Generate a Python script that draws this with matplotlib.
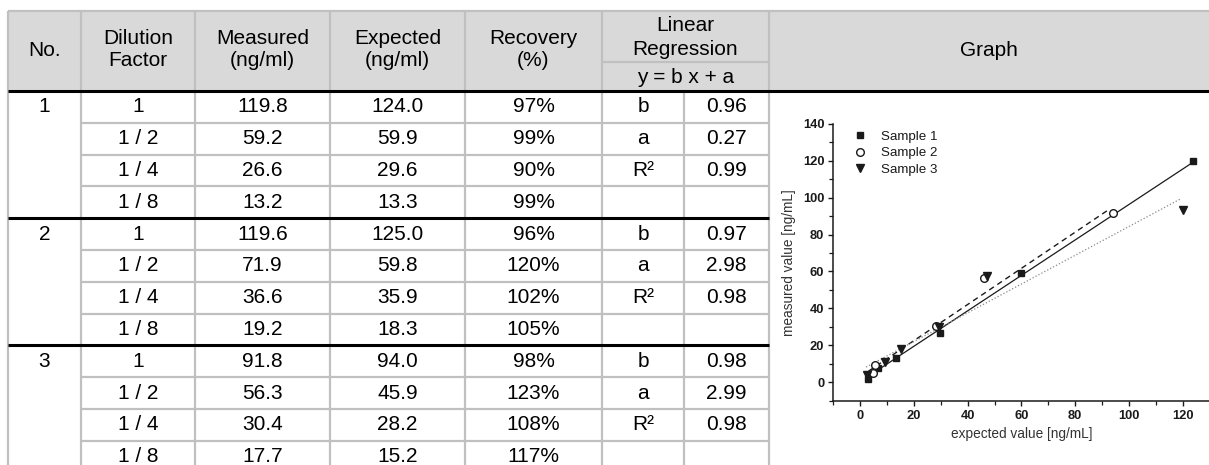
import matplotlib.pyplot as plt
from matplotlib.patches import Rectangle

plt.rcParams['font.family'] = ['Liberation Sans', 'DejaVu Sans']

# table data
dilution = ['1', '1 / 2', '1 / 4', '1 / 8'] * 3
measured = [119.8, 59.2, 26.6, 13.2, 119.6, 71.9, 36.6, 19.2, 91.8, 56.3, 30.4, 17.7]
expected = [124.0, 59.9, 29.6, 13.3, 125.0, 59.8, 35.9, 18.3, 94.0, 45.9, 28.2, 15.2]
recovery = [97, 99, 90, 99, 96, 120, 102, 105, 98, 123, 108, 117]
sample_no = ['1', '2', '3']
reg_b = [0.96, 0.97, 0.98]
reg_a = [0.27, 2.98, 2.99]
reg_r2 = [0.99, 0.98, 0.98]

# graph data
s1_x = [124.0, 59.9, 29.6, 13.3, 6.7, 2.8]
s1_y = [119.8, 59.2, 26.6, 13.2, 7.8, 1.5]
s2_x = [94.0, 45.9, 28.2, 5.7, 4.7]
s2_y = [91.8, 56.3, 30.4, 9.1, 4.9]
s3_x = [120.2, 47.3, 29.3, 15.3, 9.4, 2.5]
s3_y = [93.2, 57.4, 29.9, 17.8, 11.2, 3.8]
fit1_x, fit1_y = [2.5, 124.0], [2.7, 119.3]
fit2_x, fit2_y = [3.0, 93.0], [5.9, 94.0]
fit3_x, fit3_y = [2.2, 119.6], [8.2, 99.6]

W, H = 1209, 465
fig = plt.figure(figsize=(W / 100, H / 100), dpi=100)

# ---- table drawn in pixel coordinates
tab = fig.add_axes([0, 0, 1, 1])
tab.set_xlim(0, W)
tab.set_ylim(H, 0)
tab.axis('off')

cols = [8, 81, 195, 330, 465, 602, 684, 769, W]
top, sub, head_bot = 11, 62, 91
row_h = 31.8
grey = '#c0c0c0'
fs = 15

tab.add_patch(Rectangle((cols[0], top), W - cols[0], head_bot - top,
                        facecolor='#d9d9d9', edgecolor='none', zorder=0))
tab.hlines(top, cols[0], W, color=grey, lw=1.6)
tab.hlines(sub, cols[5], cols[7], color=grey, lw=1.6)
for x in cols[:-1]:
    if x != cols[6]:
        tab.vlines(x, top, head_bot, color=grey, lw=1.6)
    tab.vlines(x, head_bot, H, color=grey, lw=1.6)

def cx(i):
    return (cols[i] + cols[i + 1]) / 2

hy = (top + head_bot) / 2 - 1
tab.text(cx(0), hy, 'No.', ha='center', va='center', fontsize=fs)
tab.text(cx(1), hy, 'Dilution\nFactor', ha='center', va='center', fontsize=fs, linespacing=1.2)
tab.text(cx(2), hy, 'Measured\n(ng/ml)', ha='center', va='center', fontsize=fs, linespacing=1.2)
tab.text(cx(3), hy, 'Expected\n(ng/ml)', ha='center', va='center', fontsize=fs, linespacing=1.2)
tab.text(cx(4), hy, 'Recovery\n(%)', ha='center', va='center', fontsize=fs, linespacing=1.2)
tab.text((cols[5] + cols[7]) / 2, (top + sub) / 2 + 1, 'Linear\nRegression',
         ha='center', va='center', fontsize=fs, linespacing=1.3)
tab.text((cols[5] + cols[7]) / 2, (sub + head_bot) / 2 + 1, 'y = b x + a',
         ha='center', va='center', fontsize=fs)
tab.text(cx(7), hy, 'Graph', ha='center', va='center', fontsize=fs)

for i in range(len(measured)):
    y0 = head_bot + i * row_h
    yc = y0 + row_h / 2
    if i % 4 == 0:
        tab.hlines(y0, cols[0], cols[7] if i else W, color='black', lw=2.2, zorder=3)
        tab.text(cx(0), yc, sample_no[i // 4], ha='center', va='center', fontsize=fs)
    else:
        tab.hlines(y0, cols[1], cols[7], color=grey, lw=1.6)
    tab.text(cx(1), yc, dilution[i], ha='center', va='center', fontsize=fs)
    tab.text(cx(2), yc, f'{measured[i]:.1f}', ha='center', va='center', fontsize=fs)
    tab.text(cx(3), yc, f'{expected[i]:.1f}', ha='center', va='center', fontsize=fs)
    tab.text(cx(4), yc, f'{recovery[i]}%', ha='center', va='center', fontsize=fs)
    g, k = divmod(i, 4)
    if k < 3:
        name = ['b', 'a', 'R²'][k]
        val = [reg_b, reg_a, reg_r2][k][g]
        tab.text(cx(5), yc, name, ha='center', va='center', fontsize=fs)
        tab.text(cx(6), yc, f'{val:.2f}', ha='center', va='center', fontsize=fs)

# ---- embedded graph
ax = fig.add_axes([833.3 / W, (H - 400.7) / H, (1209.5 - 833.3) / W, (400.7 - 123.8) / H])
ax.patch.set_alpha(0)
ink = '#1a1a1a'
ax.plot(fit1_x, fit1_y, '-', color=ink, lw=0.9)
ax.plot(fit2_x, fit2_y, '--', color=ink, lw=1.0, dashes=(4, 3))
ax.plot(fit3_x, fit3_y, ':', color='#888888', lw=0.9)
ax.plot(s1_x, s1_y, 's', color=ink, ms=5, ls='none', label='Sample 1')
ax.plot(s2_x, s2_y, 'o', mfc='white', mec=ink, mew=1.0, ms=5.5, ls='none', label='Sample 2')
ax.plot(s3_x, s3_y, 'v', color=ink, ms=6, ls='none', label='Sample 3')

ax.set_xlim(-10, 130)
ax.set_ylim(-10, 140)
ax.set_xticks(range(0, 121, 20))
ax.set_xticks(range(-10, 131, 20), minor=True)
ax.set_yticks(range(0, 141, 20))
ax.set_yticks(range(-10, 131, 20), minor=True)
for side in ('top', 'right'):
    ax.spines[side].set_visible(False)
for side in ('left', 'bottom'):
    ax.spines[side].set_linewidth(1.1)
    ax.spines[side].set_color(ink)
ax.tick_params(which='major', length=3.5, width=1.0, color=ink, pad=3,
               labelsize=9.3, labelcolor=ink)
ax.tick_params(which='minor', length=3, width=0.9, color=ink)
for lab in ax.get_xticklabels() + ax.get_yticklabels():
    lab.set_fontweight('bold')
ax.set_xlabel('expected value [ng/mL]', fontsize=9.8, color='#333333', labelpad=4)
ax.set_ylabel('measured value [ng/mL]', fontsize=9.8, color='#333333', labelpad=5)
ax.legend(loc='upper left', bbox_to_anchor=(0.052, 0.975), frameon=False, fontsize=9.6,
          handlelength=1.0, handletextpad=1.1, labelspacing=0.3, borderpad=0,
          borderaxespad=0, numpoints=1, labelcolor=ink)

fig.savefig('out.png', dpi=100)
